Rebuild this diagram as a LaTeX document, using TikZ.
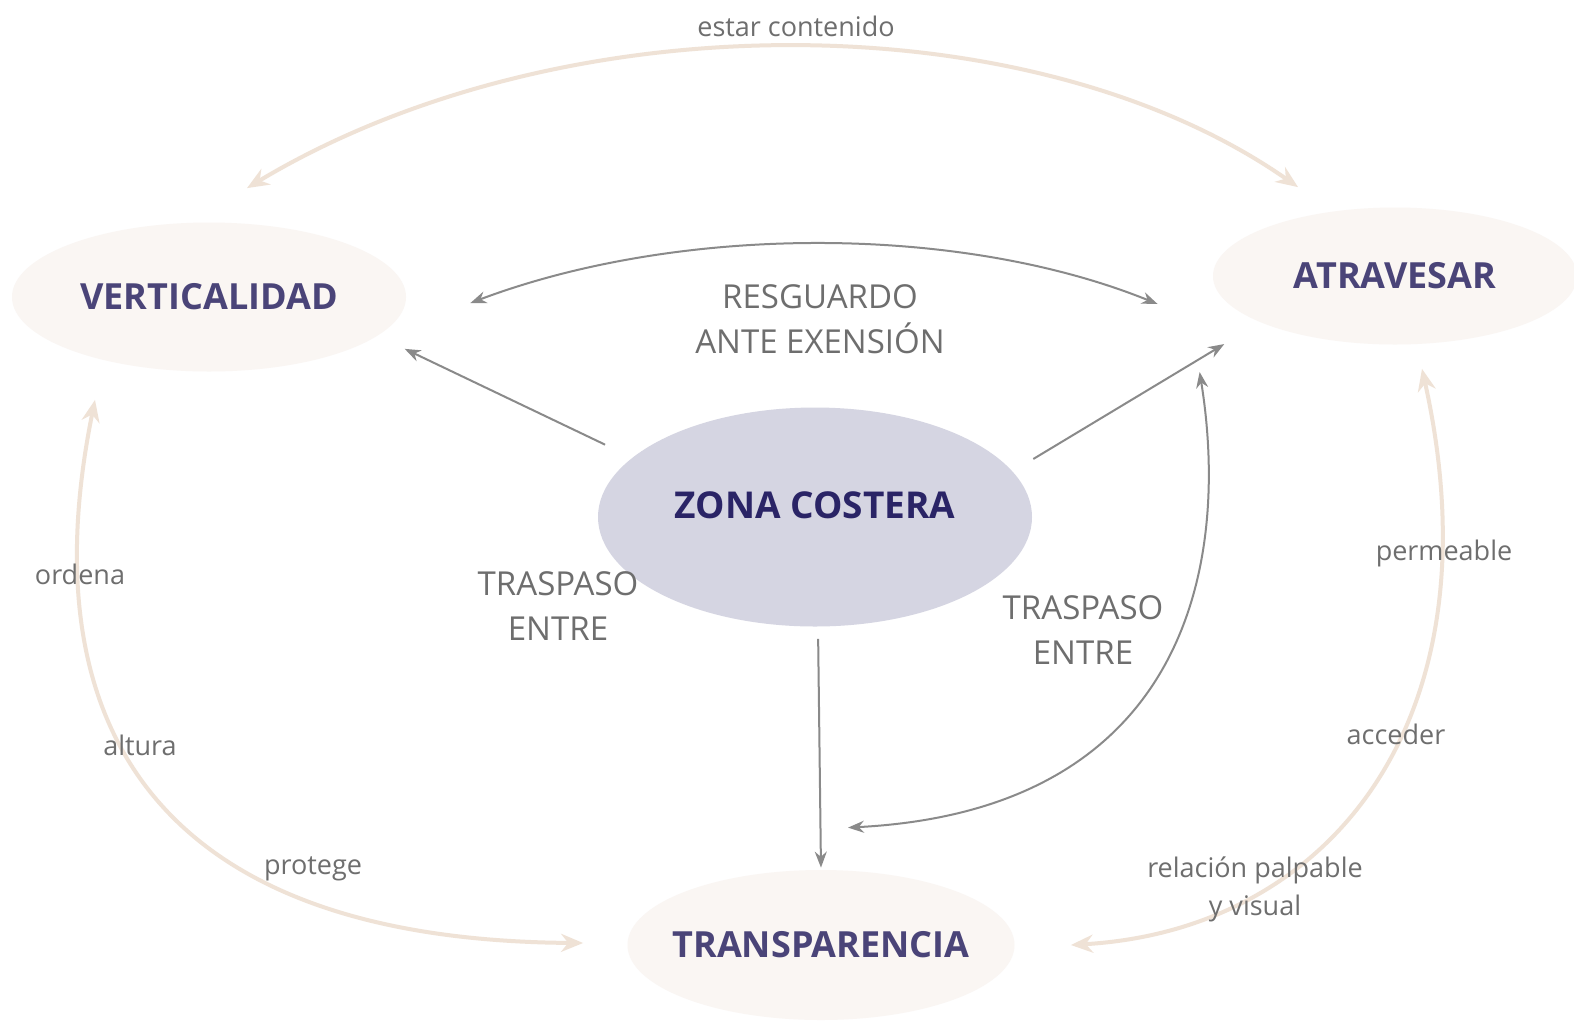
\documentclass[tikz,border=0pt]{standalone}
\usepackage{fontspec}
\setmainfont{Open Sans}
\usetikzlibrary{positioning,arrows.meta,shapes.geometric}

\definecolor{bubblefill}{HTML}{FAF6F3}
\definecolor{corefill}{HTML}{D5D5E2}
\definecolor{titleink}{HTML}{4A4478}
\definecolor{coreink}{HTML}{2A2466}
\definecolor{linkgray}{HTML}{8A8A8A}
\definecolor{labelgray}{HTML}{6E6E6E}
\definecolor{softbeige}{HTML}{EFE2D6}

\begin{document}
\begin{tikzpicture}[
  x=0.5pt, y=-0.5pt,
  tipg/.tip={Stealth[length=8pt,width=6pt]},
  tipb/.tip={Stealth[length=11pt,width=9pt]},
  bubble/.style={ellipse, fill=bubblefill, inner sep=0pt, text=titleink,
    font=\fontsize{18}{22}\selectfont\bfseries},
  corebubble/.style={ellipse, fill=corefill, inner sep=0pt, text=coreink, text depth=12pt,
    font=\fontsize{18.5}{22}\selectfont\bfseries},
  coremap/.style={-tipg, draw=linkgray, line width=1pt},
  corelink/.style={tipg-tipg, draw=linkgray, line width=1pt},
  softlink/.style={tipb-tipb, draw=softbeige, line width=2pt},
  caplabel/.style={text=labelgray, align=center, font=\fontsize{16.5}{22.5}\selectfont},
  smalllabel/.style={text=labelgray, align=center, font=\fontsize{13.5}{19}\selectfont}
]
  \clip (0,0) rectangle (1574,1024);
  \fill[white] (0,0) rectangle (1574,1024);

  % concepts
  \node[bubble, minimum width=197pt, minimum height=74.5pt] (vert) at (209,297) {VERTICALIDAD};
  \node[bubble, minimum width=182pt, minimum height=68.5pt] (atrav) at (1395,276) {ATRAVESAR};
  \node[bubble, inner xsep=-6pt, minimum width=193.5pt, minimum height=75pt] (transp) at (821,945) {TRANSPARENCIA};
  \node[corebubble, inner xsep=-4pt, minimum width=217pt, minimum height=109.5pt] (zona) at (815,517) {ZONA COSTERA};

  % links from the coast zone
  \draw[coremap, shorten <=15pt, shorten >=15pt] (zona.162.7) -- (vert.-13.8);
  \draw[coremap, shorten <=12pt, shorten >=21pt] (zona.13) -- (atrav.199);
  \draw[coremap, shorten <=6pt, shorten >=1pt] ([xshift=1.5pt]zona.south) -- (transp.north);
  \draw[corelink] ([xshift=32pt,yshift=-3pt]vert.east) .. controls (680,224) and (960,224) .. ([xshift=-27.5pt,yshift=-14pt]atrav.west);
  \draw[corelink] ([xshift=-6.5pt,yshift=-48pt]atrav.west) .. controls (1230,560) and (1190,810) .. ([xshift=13.5pt,yshift=21pt]transp.north);

  % outer ring
  \draw[softlink] ([xshift=19pt,yshift=17pt]vert.north) .. controls (560,0) and (1030,0) .. ([xshift=-48.5pt,yshift=10pt]atrav.north);
  \draw[softlink] ([xshift=-57pt,yshift=-14pt]vert.south) .. controls (30,720) and (150,940) .. ([xshift=-22pt,yshift=1pt]transp.west);
  \draw[softlink] ([xshift=13.5pt,yshift=-12pt]atrav.south) .. controls (1500,720) and (1330,930) .. ([xshift=28pt]transp.east);

  % labels
  \node[caplabel] (resguardo) at (820,319) {RESGUARDO\\ANTE EXENSIÓN};
  \node[caplabel] (traspasoL) at (558,606) {TRASPASO\\ENTRE};
  \node[caplabel] (traspasoR) at (1083,630) {TRASPASO\\ENTRE};
  \node[smalllabel] (estar) at (796,26) {estar contenido};
  \node[smalllabel] (ordena) at (80,574) {ordena};
  \node[smalllabel] (altura) at (140,745) {altura};
  \node[smalllabel] (protege) at (313,869) {protege};
  \node[smalllabel] (permeable) at (1444,553) {permeable};
  \node[smalllabel] (acceder) at (1396,734) {acceder};
  \node[smalllabel] (relacion) at (1255,889) {relación palpable\\y visual};
\end{tikzpicture}
\end{document}
